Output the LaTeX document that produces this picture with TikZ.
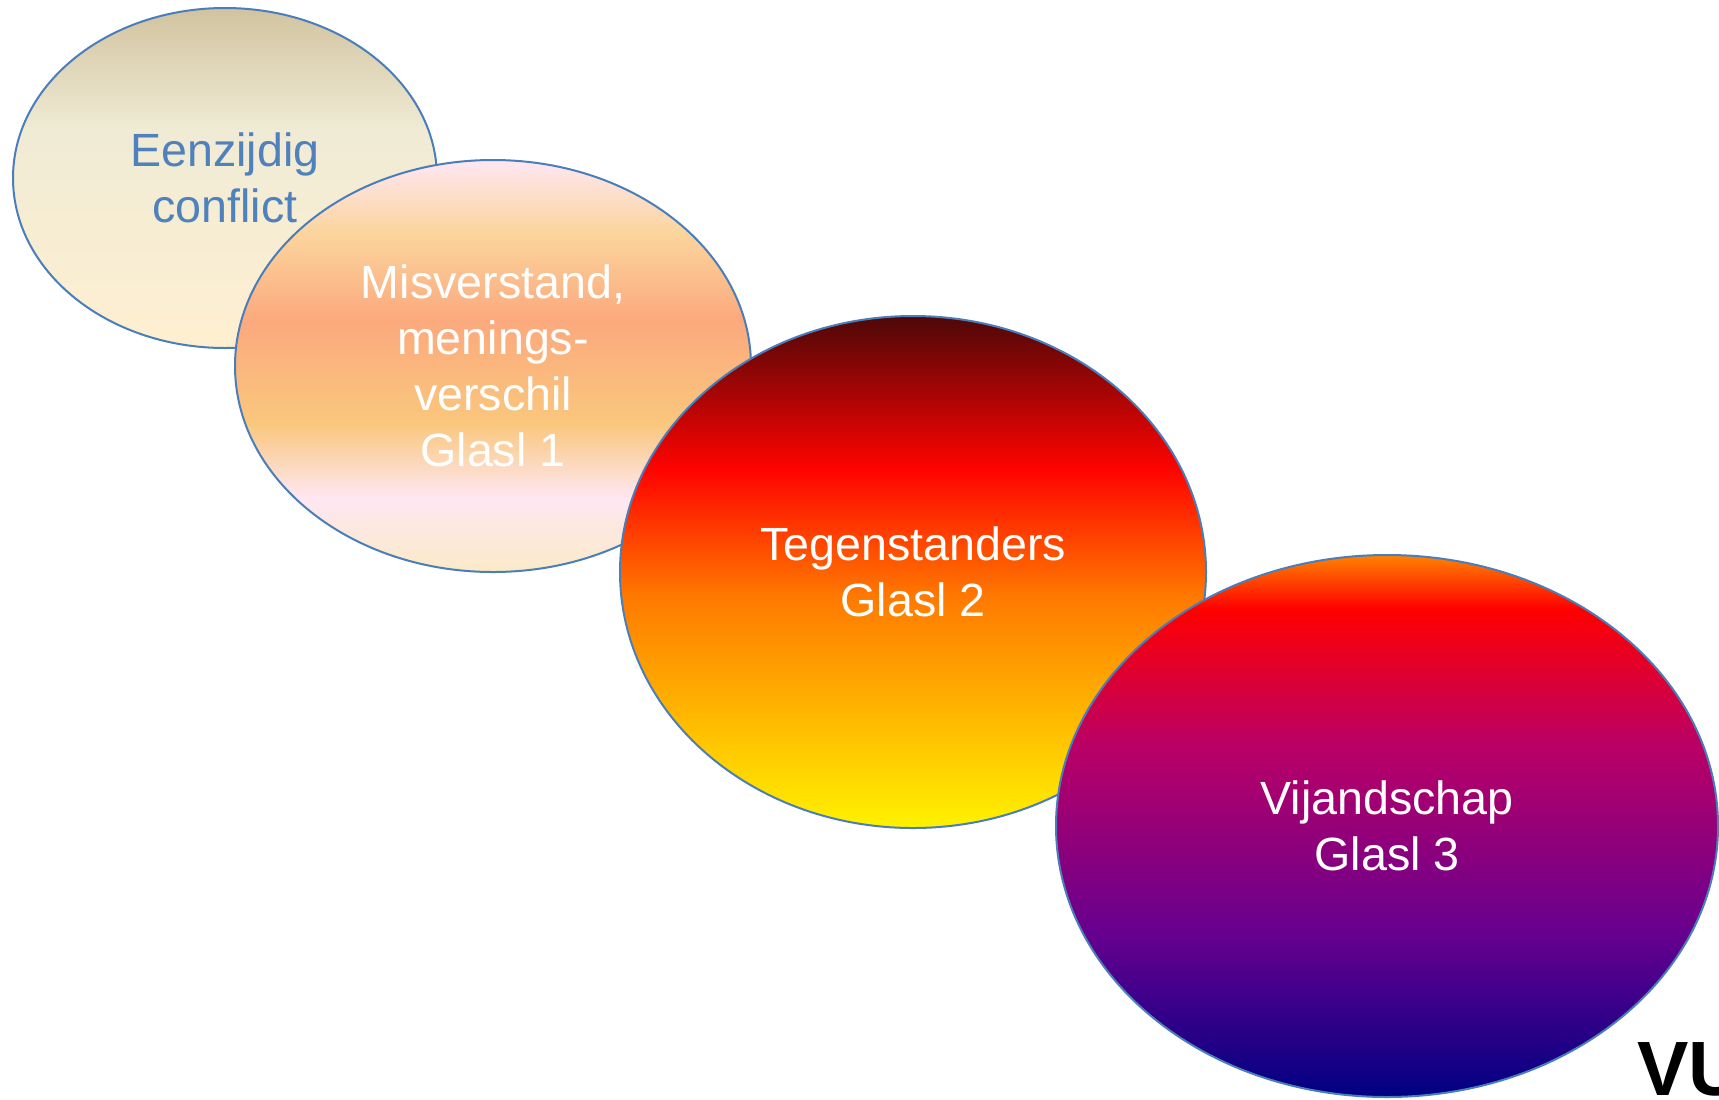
\documentclass[tikz,border=0pt]{standalone}
\usepackage{fontspec}
\setmainfont{Liberation Sans}
\usetikzlibrary{shapes.geometric}
\definecolor{outl}{HTML}{4A7EBB}
\definecolor{txtblue}{HTML}{4F81BD}
% Parchment
\definecolor{paA}{HTML}{D1C39F}
\definecolor{paB}{HTML}{F0EBD5}
\definecolor{paC}{HTML}{FFEFD1}
% Desert
\definecolor{deA}{HTML}{FEE7F2}
\definecolor{deB}{HTML}{FBD49C}
\definecolor{deC}{HTML}{FBA97D}
\definecolor{deD}{HTML}{FAC77D}
\definecolor{deE}{HTML}{FEE7F2}
\definecolor{deF}{HTML}{FBEAC7}
% Fire
\definecolor{fiA}{HTML}{4D0808}
\definecolor{fiB}{HTML}{FF0300}
\definecolor{fiC}{HTML}{FF7A00}
\definecolor{fiD}{HTML}{FFF200}
% Late sunset
\definecolor{lsA}{HTML}{FF8200}
\definecolor{lsB}{HTML}{FF0000}
\definecolor{lsC}{HTML}{BA0066}
\definecolor{lsD}{HTML}{66008F}
\definecolor{lsE}{HTML}{000082}
\pgfdeclareverticalshading{parchmentsh}{100bp}{color(0bp)=(paC); color(25bp)=(paC); color(57bp)=(paB); color(75bp)=(paA); color(100bp)=(paA)}
\pgfdeclareverticalshading{desertsh}{100bp}{color(0bp)=(deF); color(25bp)=(deF); color(34bp)=(deE); color(43bp)=(deD); color(55.5bp)=(deC); color(66bp)=(deB); color(75bp)=(deA); color(100bp)=(deA)}
\pgfdeclareverticalshading{firesh}{100bp}{color(0bp)=(fiD); color(25bp)=(fiD); color(47.5bp)=(fiC); color(60bp)=(fiB); color(75bp)=(fiA); color(100bp)=(fiA)}
\pgfdeclareverticalshading{sunsetsh}{100bp}{color(0bp)=(lsE); color(25bp)=(lsE); color(40bp)=(lsD); color(57.5bp)=(lsC); color(70bp)=(lsB); color(75bp)=(lsA); color(100bp)=(lsA)}
\tikzset{
  blob/.style={ellipse, draw=outl, line width=1pt, inner sep=0pt, align=center,
    font=\fontsize{23.3}{28}\selectfont, text=white},
  logo/.style={font=\fontsize{38.5}{40}\selectfont\bfseries, text=black, inner sep=0pt, anchor=base west}
}
\begin{document}
\begin{tikzpicture}[x=0.5pt,y=0.5pt]
  \clip (0,0) rectangle (1719,-1099);
  \fill[white] (0,0) rectangle (1719,-1099);
  \node[blob, shading=parchmentsh, text=txtblue, minimum width=212pt, minimum height=170pt] (eenzijdig) at (225,-178) {Eenzijdig\\conflict};
  \node[blob, shading=desertsh, minimum width=258pt, minimum height=206pt] (misverstand) at (493,-366) {Misverstand,\\menings-\\verschil\\Glasl 1};
  \node[blob, shading=firesh, minimum width=293pt, minimum height=256pt] (tegenstanders) at (913,-572) {Tegenstanders\\Glasl 2};
  \node[blob, shading=sunsetsh, minimum width=331pt, minimum height=271pt] (vijandschap) at (1387,-826) {Vijandschap\\Glasl 3};
  \node[logo] (vu) at (1637,-1095) {VU};
\end{tikzpicture}
\end{document}
